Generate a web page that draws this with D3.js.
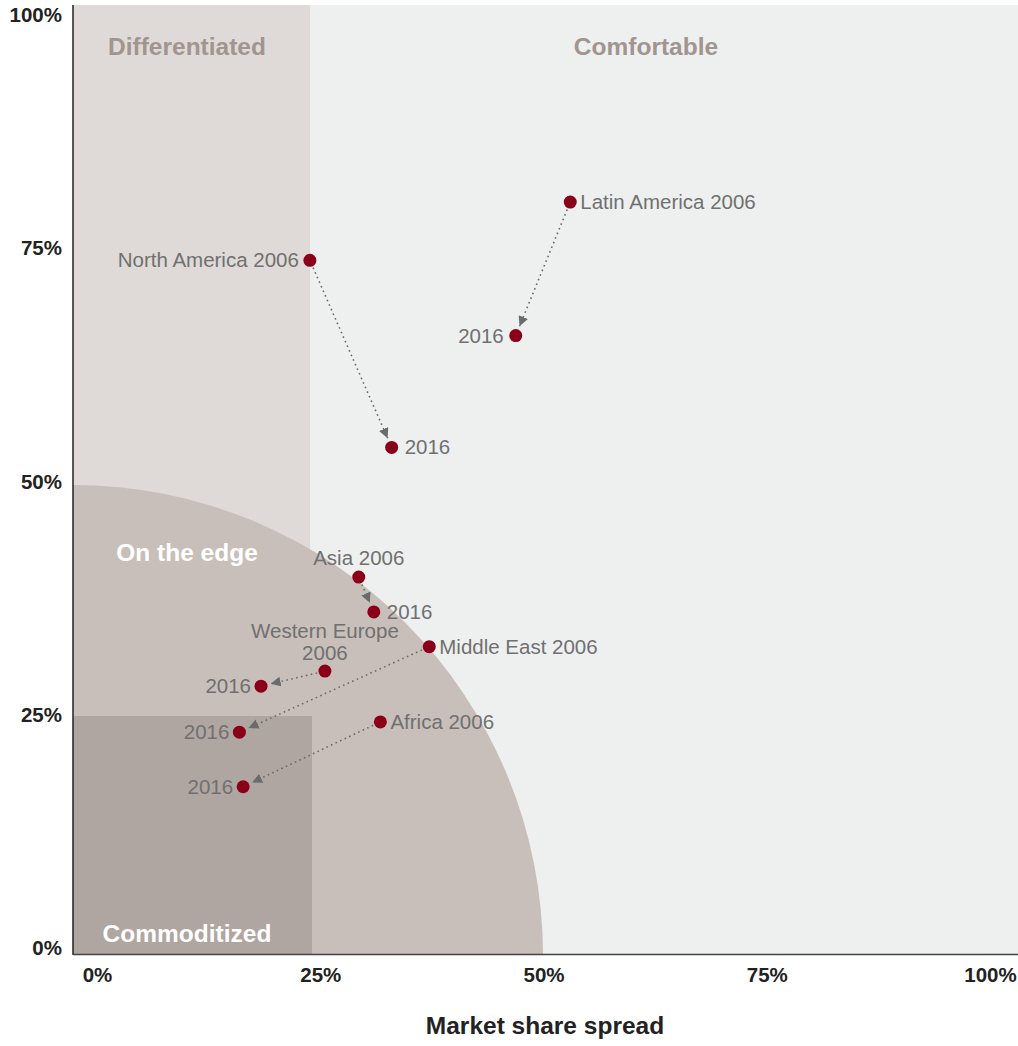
<!DOCTYPE html>
<html>
<head>
<meta charset="utf-8">
<script src="https://cdn.jsdelivr.net/npm/d3@7"></script>
<style>
  html, body { margin: 0; padding: 0; background: #fff; }
  svg { display: block; font-family: "Liberation Sans", Arial, Helvetica, sans-serif; }
</style>
</head>
<body>
<svg id="chart" width="1018" height="1046"></svg>
<script>
// Regions: market share spread (x, %) vs. profit share (y, %)
const regions = ["Latin America", "North America", "Asia", "Western Europe", "Middle East", "Africa"];
const x2006 = [52.9, 25.2, 30.4, 26.8, 37.9, 32.7];
const y2006 = [80.1, 73.9, 40.2, 30.2, 32.8, 24.8];
const x2016 = [47.1, 33.9, 32.0, 20.0, 17.7, 18.1];
const y2016 = [65.9, 54.0, 36.5, 28.6, 23.7, 17.9];
const tickValues = [0, 25, 50, 75, 100];
const zoneNames = ["Differentiated", "Comfortable", "On the edge", "Commoditized"];

const svg = d3.select("#chart");
const plotLeft = 73, plotRight = 1018, plotTop = 5, plotBottom = 955;

const x = d3.scaleLinear().domain([0, 100]).range([plotLeft, 1013]);
const y = d3.scaleLinear().domain([0, 100]).range([plotBottom, 15]);
// tick label placement
const xl = d3.scaleLinear().domain([0, 100]).range([97, 990]);
const yl = d3.scaleLinear().domain([0, 100]).range([948, 15]);

const defs = svg.append("defs");
defs.append("clipPath").attr("id", "plotClip")
  .append("rect").attr("x", plotLeft).attr("y", plotTop)
  .attr("width", plotRight - plotLeft).attr("height", plotBottom - plotTop);
defs.append("marker")
  .attr("id", "arrow").attr("viewBox", "0 0 10 10")
  .attr("refX", 10).attr("refY", 5)
  .attr("markerWidth", 10).attr("markerHeight", 10)
  .attr("markerUnits", "userSpaceOnUse")
  .attr("orient", "auto")
  .append("path").attr("d", "M0,0L10,5L0,10Z").attr("fill", "#6b6b6b");

const bg = svg.append("g").attr("clip-path", "url(#plotClip)");
// Comfortable
bg.append("rect").attr("x", plotLeft).attr("y", plotTop)
  .attr("width", plotRight - plotLeft).attr("height", plotBottom - plotTop).attr("fill", "#eef0ef");
// Differentiated
bg.append("rect").attr("x", plotLeft).attr("y", plotTop)
  .attr("width", x(25) + 2 - plotLeft).attr("height", plotBottom - plotTop).attr("fill", "#dfdad7");
// On the edge: quarter circle of radius 50%
const r = x(50) - x(0);
bg.append("path")
  .attr("d", `M${x(0)},${y(0)} L${x(0)},${y(0) - r} A${r},${r} 0 0 1 ${x(0) + r},${y(0)} Z`)
  .attr("fill", "#c8bfba");
// Commoditized
bg.append("rect").attr("x", x(0)).attr("y", y(25) - 4)
  .attr("width", x(25) + 4 - x(0)).attr("height", y(0) - y(25) + 4).attr("fill", "#b0a6a1");

// Zone labels
const zl = svg.append("g").attr("font-weight", "bold").attr("font-size", 24.5);
zl.append("text").attr("x", 187).attr("y", 55).attr("text-anchor", "middle")
  .attr("fill", "#a1958f").text(zoneNames[0]);
zl.append("text").attr("x", 646).attr("y", 55).attr("text-anchor", "middle")
  .attr("fill", "#a1958f").text(zoneNames[1]);
zl.append("text").attr("x", 187).attr("y", 561).attr("text-anchor", "middle")
  .attr("fill", "#ffffff").text(zoneNames[2]);
zl.append("text").attr("x", 187).attr("y", 942).attr("text-anchor", "middle")
  .attr("fill", "#ffffff").text(zoneNames[3]);

// Axes
svg.append("line").attr("x1", plotLeft).attr("x2", plotLeft).attr("y1", plotTop).attr("y2", plotBottom)
  .attr("stroke", "#222").attr("stroke-width", 1.5);
svg.append("line").attr("x1", plotLeft).attr("x2", plotRight).attr("y1", plotBottom - 0.5).attr("y2", plotBottom - 0.5)
  .attr("stroke", "#444").attr("stroke-width", 1.5);

const fmt = d => d + "%";
const yAxis = svg.append("g").attr("transform", "translate(62,0)")
  .call(d3.axisLeft(yl).tickValues(tickValues).tickFormat(fmt).tickSize(0).tickPadding(0));
yAxis.select(".domain").remove();
yAxis.selectAll("text").attr("font-size", 20.5).attr("font-weight", "bold").attr("fill", "#222")
  .attr("font-family", "Liberation Sans, Arial, sans-serif");

const xAxis = svg.append("g").attr("transform", "translate(0,967)")
  .call(d3.axisBottom(xl).tickValues(tickValues).tickFormat(fmt).tickSize(0).tickPadding(0));
xAxis.select(".domain").remove();
xAxis.selectAll("text").attr("font-size", 20.5).attr("font-weight", "bold").attr("fill", "#222")
  .attr("font-family", "Liberation Sans, Arial, sans-serif");

svg.append("text").attr("x", 545).attr("y", 1034).attr("text-anchor", "middle")
  .attr("font-size", 24.5).attr("font-weight", "bold").attr("fill", "#222")
  .text("Market share spread");

// Movement arrows 2006 -> 2016
const moves = regions.map((name, i) => ({
  name, x0: x2006[i], y0: y2006[i], x1: x2016[i], y1: y2016[i]
}));
svg.append("g").selectAll("line").data(moves).join("line")
  .each(function (d) {
    const ax = x(d.x0), ay = y(d.y0), bx = x(d.x1), by = y(d.y1);
    const len = Math.hypot(bx - ax, by - ay);
    const ux = (bx - ax) / len, uy = (by - ay) / len;
    d3.select(this)
      .attr("x1", ax + ux * 8).attr("y1", ay + uy * 8)
      .attr("x2", bx - ux * 10).attr("y2", by - uy * 10);
  })
  .attr("stroke", "#6b6b6b").attr("stroke-width", 1.6)
  .attr("stroke-dasharray", "1.6,3.4")
  .attr("marker-end", "url(#arrow)");

// Dots
const dots = svg.append("g").attr("fill", "#8a0018");
dots.selectAll("circle.a").data(moves).join("circle").attr("class", "a")
  .attr("cx", d => x(d.x0)).attr("cy", d => y(d.y0)).attr("r", 6.5);
dots.selectAll("circle.b").data(moves).join("circle").attr("class", "b")
  .attr("cx", d => x(d.x1)).attr("cy", d => y(d.y1)).attr("r", 6.5);

// Point labels: [dx, dy, anchor] relative to each point
const label2006 = [
  [10, 7, "start", ["Latin America 2006"]],
  [-11, 7, "end", ["North America 2006"]],
  [0, -12, "middle", ["Asia 2006"]],
  [0, -33, "middle", ["Western Europe", "2006"]],
  [10, 7, "start", ["Middle East 2006"]],
  [10, 7, "start", ["Africa 2006"]]
];
const label2016 = [
  [-12, 7, "end"],
  [13, 7, "start"],
  [13, 7, "start"],
  [-10, 7, "end"],
  [-10, 7, "end"],
  [-10, 7, "end"]
];
const lg = svg.append("g").attr("font-size", 20.5).attr("fill", "#707070");
moves.forEach((d, i) => {
  const [dx, dy, anchor, lines] = label2006[i];
  const t = lg.append("text").attr("text-anchor", anchor)
    .attr("x", x(d.x0) + dx).attr("y", y(d.y0) + dy);
  lines.forEach((ln, k) => {
    t.append("tspan").attr("x", x(d.x0) + dx).attr("dy", k === 0 ? 0 : 21.5).text(ln);
  });
  const [dx2, dy2, anchor2] = label2016[i];
  lg.append("text").attr("text-anchor", anchor2)
    .attr("x", x(d.x1) + dx2).attr("y", y(d.y1) + dy2).text("2016");
});
</script>
</body>
</html>
